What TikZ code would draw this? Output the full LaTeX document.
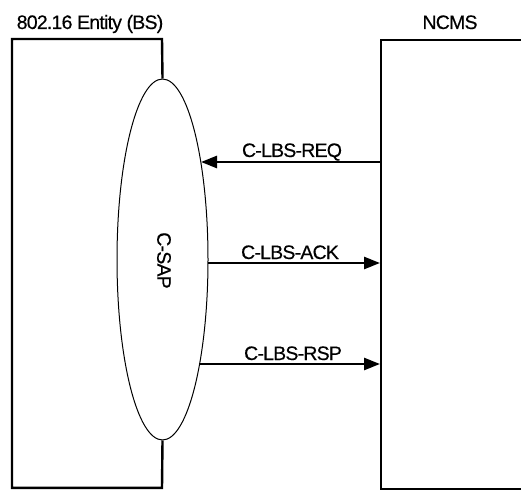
\documentclass[tikz,border=0pt]{standalone}
\usepackage{fontspec}
\setmainfont{Liberation Sans}[LetterSpace=-4,FakeBold=0.4]
\usetikzlibrary{shapes.geometric,arrows.meta}
\begin{document}
\begin{tikzpicture}[x=1pt,y=-1pt,
  every node/.style={font=\fontsize{19.5}{22}\selectfont},
  entbox/.style={line width=2.4pt},
  sapshape/.style={ellipse,draw,line width=1pt,minimum width=91pt,minimum height=361pt,inner sep=0pt},
  msg/.style={line width=2.6pt,-{Triangle[length=16pt,width=12pt]}},
  lbl/.style={anchor=base,inner sep=0pt}]
\useasboundingbox (0,0) rectangle (521,489);
\clip (0,0) rectangle (521,489);
% SAP ellipse
\node[sapshape] (sap) at (162.5,259.5) {};
\node[rotate=-90,inner sep=0pt] (saplbl) at (164,260.5) {C-SAP};
% left entity box
\draw[entbox] (sap.north) -- (162,39) -- (12,39) -- (12,487.8) -- (162,487.8) -- (sap.south);
% right entity box
\node[draw,entbox,minimum width=160pt,minimum height=449pt,anchor=north west,inner sep=0pt] (ncms) at (380,39) {};
% headers
\node[lbl] (enthdr) at (90,29) {802.16 Entity (BS)};
\node[lbl] (ncmshdr) at (450,29) {NCMS};
% message end points on ellipse / NCMS
\coordinate (reqS) at (380,162);
\coordinate (reqE) at (201,162);
\coordinate (ackS) at (208,263);
\coordinate (ackE) at (380,263);
\coordinate (rspS) at (199.6,364);
\coordinate (rspE) at (380,364);
\draw[msg] (reqS) -- (reqE);
\draw[msg] (ackS) -- (ackE);
\draw[msg] (rspS) -- (rspE);
\node[lbl] (reqlbl) at (292,157) {C-LBS-REQ};
\node[lbl] (acklbl) at (290,259) {C-LBS-ACK};
\node[lbl] (rsplbl) at (293,360) {C-LBS-RSP};
\end{tikzpicture}
\end{document}
